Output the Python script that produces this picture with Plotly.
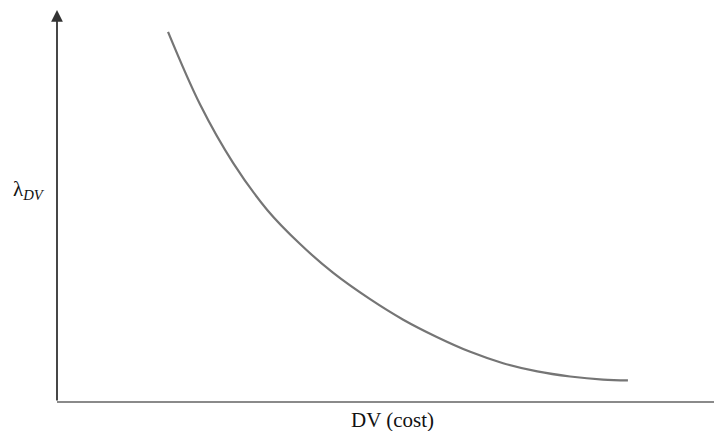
import plotly.graph_objects as go

# curve (arbitrary units, axes span 0..100)
dv_cost = [16.9, 21.8, 26.8, 32.0, 37.0, 42.0, 47.6, 52.7, 57.8, 62.9, 67.9, 73.1, 78.1, 83.1, 86.9]
lambda_dv = [94.4, 75.8, 61.0, 49.0, 40.3, 33.0, 26.3, 21.0, 16.6, 12.8, 9.9, 7.8, 6.5, 5.7, 5.5]

x_title = 'DV (cost)'
y_title = 'λ<sub><i>DV</i></sub>'

fig = go.Figure(go.Scatter(
    x=dv_cost, y=lambda_dv,
    mode='lines',
    line=dict(color='#757575', width=2.2, shape='spline', smoothing=1.0),
    hoverinfo='none'))

serif = 'Liberation Serif, Times New Roman, serif'

fig.update_layout(
    width=716, height=431,
    showlegend=False,
    paper_bgcolor='white', plot_bgcolor='white',
    margin=dict(l=57, r=2, t=10, b=29, autoexpand=False),
    xaxis=dict(range=[0, 100], showgrid=False, zeroline=False, showticklabels=False,
               showline=False, fixedrange=True),
    yaxis=dict(range=[0, 100], showgrid=False, zeroline=False, showticklabels=False,
               showline=False, fixedrange=True),
    annotations=[
        # y axis with arrow head
        dict(x=0, y=1, xref='paper', yref='paper', ax=0, ay=392, axref='pixel', ayref='pixel',
             showarrow=True, arrowhead=2, arrowsize=1.3, arrowwidth=1.8, arrowcolor='#333333', text=''),
        dict(x=0.51, y=-0.046, xref='paper', yref='paper', text=x_title, showarrow=False,
             xanchor='center', yanchor='middle', font=dict(family=serif, size=21, color='#111111')),
        dict(x=-0.0426, y=0.541, xref='paper', yref='paper', text=y_title, showarrow=False,
             xanchor='center', yanchor='middle', font=dict(family=serif, size=21, color='#111111')),
    ],
    shapes=[
        dict(type='line', xref='paper', yref='paper', x0=0, y0=0, x1=1, y1=0,
             line=dict(color='#8a8a8a', width=1.8)),
    ],
)

# the page body has an 8px default margin, drop it so the figure sits at 0,0
fig.write_html('out.html', config={'displayModeBar': False},
               post_script="document.body.style.margin='0';")
